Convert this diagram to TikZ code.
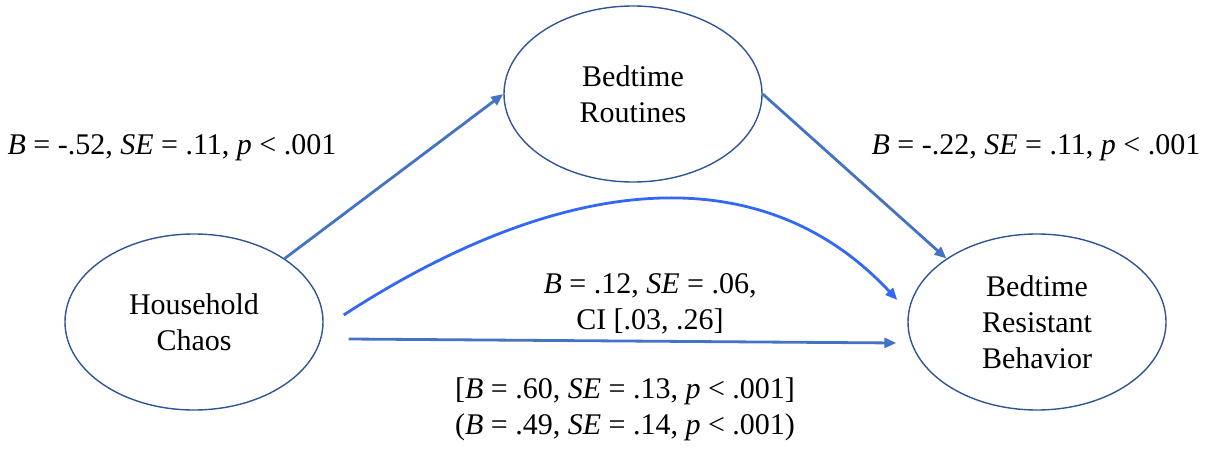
\documentclass[tikz,border=0pt]{standalone}
\usepackage{fontspec}
\setmainfont{Liberation Serif}
\usetikzlibrary{positioning, arrows.meta, shapes.geometric, calc}
\definecolor{pathblue}{RGB}{68,114,196}
\definecolor{curveblue}{RGB}{52,104,244}
\definecolor{ringblue}{RGB}{47,85,151}

\begin{document}
\begin{tikzpicture}[
    x=0.5pt, y=-0.5pt,
    var/.style={ellipse, draw=ringblue, line width=0.7pt, inner sep=0pt, minimum width=129pt, minimum height=88pt, font=\fontsize{15}{18}\selectfont, align=center},
    stat/.style={font=\fontsize{15}{18}\selectfont, align=center, inner sep=0pt, anchor=base},
    arrow/.style={-{Triangle[length=6pt, width=5pt]}, line width=1.4pt, color=pathblue},
    indirect/.style={arrow, color=curveblue}
]
\useasboundingbox (0,0) rectangle (1215,449);

\node[var] (chaos) at (194,322) {Household\\Chaos};
\node[var] (routines) at (633,94) {Bedtime\\Routines};
\node[var] (resist) at (1037,322) {Bedtime\\Resistant\\Behavior};

\node[stat] (aPath) at (172,155) {\textit{B} = -.52, \textit{SE} = .11, \textit{p} < .001};
\node[stat] (bPath) at (1036,155) {\textit{B} = -.22, \textit{SE} = .11, \textit{p} < .001};
\node[stat] (abPath) at (650,329) {\textit{B} = .12, \textit{SE} = .06,\\CI [.03, .26]};
\node[stat] (cPath) at (625,434) {[\textit{B} = .60, \textit{SE} = .13, \textit{p} < .001]\\(\textit{B} = .49, \textit{SE} = .14, \textit{p} < .001)};

\draw[arrow] (chaos.35) -- (routines.west);
\draw[arrow] (routines.east) -- (resist.145);
\draw[indirect] ($(chaos.east)+(20,-7)$) .. controls +(-33:260) and +(-133:200) .. ($(resist.west)+(-10,-22)$);
\draw[arrow] ($(chaos.east)+(25,17)$) -- ($(resist.west)+(-11,21)$);
\end{tikzpicture}
\end{document}
